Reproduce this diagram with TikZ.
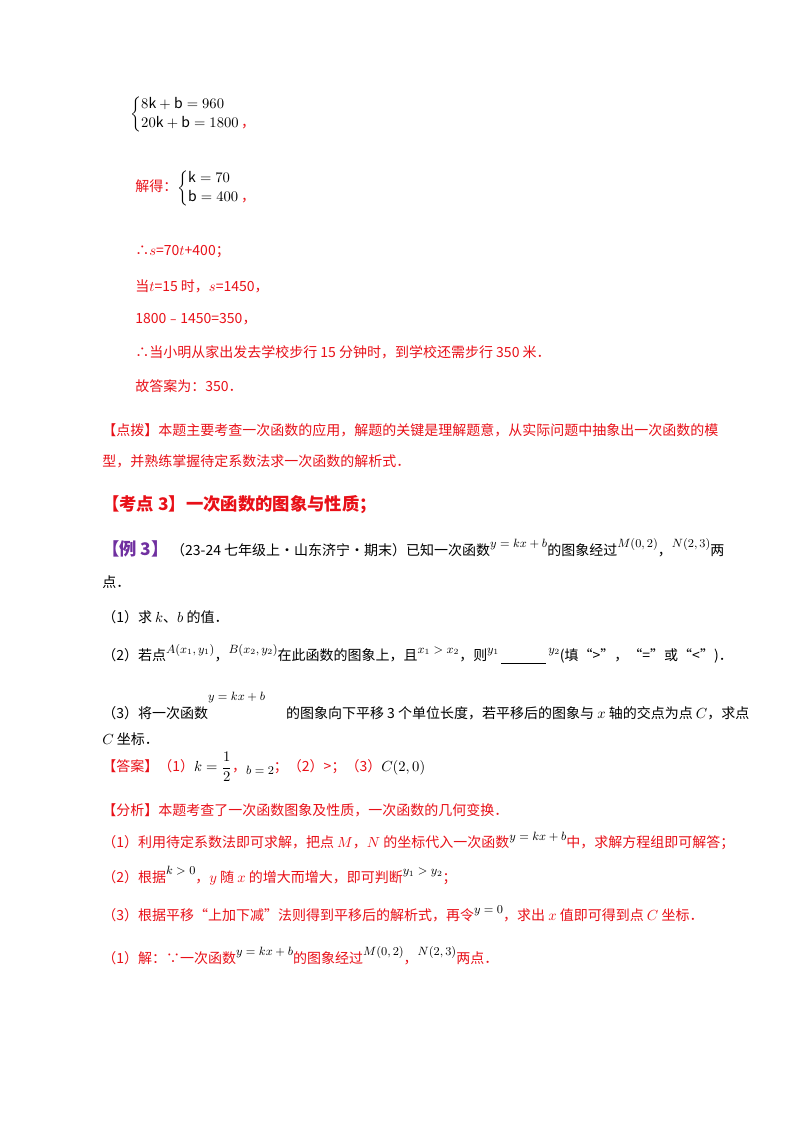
\documentclass[tikz,border=0pt]{standalone}
\usepackage{fontspec}
\usepackage{amsmath}
\setmainfont{Noto Sans CJK SC}
\definecolor{rd}{RGB}{232,16,24}
\definecolor{pu}{RGB}{112,48,160}
\newcommand{\upm}[1]{\raisebox{0.55em}{\color{black}\fontsize{9pt}{10pt}\selectfont$#1$}}
\begin{document}
\begin{tikzpicture}[x=0.75pt,y=-0.75pt,
  ln/.style={anchor=west,inner sep=0pt,font=\fontsize{10.5pt}{12pt}\selectfont},
  r/.style={ln,text=rd}]
\useasboundingbox (0,0) rectangle (800,1132);
\node[ln] (e1) at (130,114) {$\begin{cases}8\mathrm{k}+\mathrm{b}=960\\ 20\mathrm{k}+\mathrm{b}=1800\end{cases}$\hspace{-0.95em}\raisebox{-0.7em}{\textcolor{rd}{，}}};
\node[r] (e2) at (135,188) {解得：\textcolor{black}{$\begin{cases}\mathrm{k}=70\\ \mathrm{b}=400\end{cases}$}\hspace{-0.9em}\raisebox{-0.7em}{，}};
\node[r] (l1) at (135,252) {∴$s$=70$t$+400；};
\node[r] (l2) at (135,286) {当$t$=15 时，$s$=1450，};
\node[r] (l3) at (135,319) {1800﹣1450=350，};
\node[r] (l4) at (135,352) {∴当小明从家出发去学校步行 15 分钟时，到学校还需步行 350 米．};
\node[r] (l5) at (135,386) {故答案为：350．};
\node[r] (d1) at (102,430) {【点拨】本题主要考查一次函数的应用，解题的关键是理解题意，从实际问题中抽象出一次函数的模};
\node[r] (d2) at (102,461) {型，并熟练掌握待定系数法求一次函数的解析式．};
\node[r,font=\fontsize{13pt}{15pt}\selectfont\bfseries] (h) at (102,505) {【考点 3】一次函数的图象与性质；};
\node[ln] (x1) at (102,548) {\textcolor{pu}{\fontsize{13pt}{15pt}\selectfont\bfseries【例 3】}\,（23-24 七年级上·山东济宁·期末）已知一次函数\upm{y=kx+b}的图象经过\upm{M(0,2)}，\upm{N(2,3)}两};
\node[ln] (x2) at (102,582) {点．};
\node[ln] (q1) at (102,617) {（1）求 $k$、$b$ 的值．};
\node[ln] (q2) at (102,654) {（2）若点\upm{A(x_1,y_1)}，\upm{B(x_2,y_2)}在此函数的图象上，且\upm{x_1>x_2}，则\upm{y_1}\,\underline{\hspace{3.2em}}\,\upm{y_2}(填“>”，“=”或“<”)．};
\node[ln] (q3) at (102,706) {（3）将一次函数\raisebox{1.3em}{\fontsize{9pt}{10pt}\selectfont$y=kx+b$}\hspace{1.5em}的图象向下平移 3 个单位长度，若平移后的图象与 $x$ 轴的交点为点 $C$，求点};
\node[ln] (q4) at (102,739) {$C$ 坐标．};
\node[r] (a1) at (102,767) {【答案】（1）\textcolor{black}{$k=\dfrac{1}{2}$}，\raisebox{-0.2em}{\textcolor{black}{\fontsize{9pt}{10pt}\selectfont$b=2$}}；（2）>；（3）\textcolor{black}{$C(2,0)$}};
\node[r] (f1) at (102,810) {【分析】本题考查了一次函数图象及性质，一次函数的几何变换．};
\node[r] (f2) at (102,841) {（1）利用待定系数法即可求解，把点 $M$，$N$ 的坐标代入一次函数\upm{y=kx+b}中，求解方程组即可解答；};
\node[r] (f3) at (102,876) {（2）根据\upm{k>0}，$y$ 随 $x$ 的增大而增大，即可判断\upm{y_1>y_2}；};
\node[r] (f4) at (102,914) {（3）根据平移“上加下减”法则得到平移后的解析式，再令\upm{y=0}，求出 $x$ 值即可得到点 $C$ 坐标．};
\node[r] (f5) at (102,956) {（1）解：∵一次函数\upm{y=kx+b}的图象经过\upm{M(0,2)}，\upm{N(2,3)}两点．};
\end{tikzpicture}
\end{document}
